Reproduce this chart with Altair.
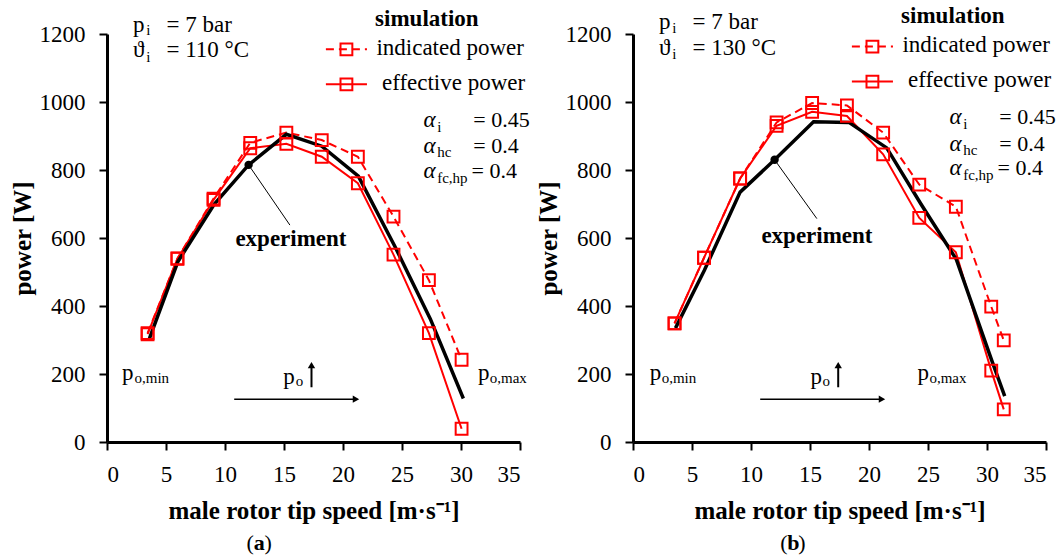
import altair as alt
import pandas as pd

# ---------------- data ----------------
# panel (a): p_i = 7 bar, theta_i = 110 C
speed_sim_a = [3.44, 5.97, 9.03, 12.14, 15.2, 18.2, 21.26, 24.28, 27.28, 30.05]
indicated_a = [320, 540, 716, 880, 910, 888, 839, 663, 476, 242]
effective_a = [317, 539, 712, 864, 877, 839, 761, 551, 320, 39]
speed_exp_a = [3.6, 6.0, 9.1, 12.0, 15.2, 18.2, 21.3, 24.4, 27.4, 30.2]
experiment_a = [305, 530, 700, 815, 905, 870, 782, 575, 362, 128]

# panel (b): p_i = 7 bar, theta_i = 130 C
speed_sim_b = [3.52, 6.02, 9.08, 12.17, 15.18, 18.13, 21.2, 24.26, 27.36, 30.36, 31.42]
indicated_b = [349, 542, 775, 940, 997, 990, 910, 757, 692, 398, 299]
effective_b = [349, 542, 775, 930, 971, 959, 846, 659, 558, 210, 96]
speed_exp_b = [3.6, 6.05, 9.08, 12.0, 15.3, 18.3, 21.5, 24.4, 27.4, 30.4, 31.5]
experiment_b = [335, 505, 735, 830, 942, 940, 865, 700, 537, 240, 135]

x_ticks = [0, 5, 10, 15, 20, 25, 30, 35]
y_ticks = [0, 200, 400, 600, 800, 1000, 1200]
x_title = "male rotor tip speed [m·s⁻¹]"
y_title = "power [W]"

RED = "#ff0000"
FONT = "Liberation Serif"
W, H = 413, 408


def annotations(temp, y_off, sub_rows):
    """Annotation tables (positions in data units) for one panel."""
    normal = [
        (2.21, 1206 + y_off, "p", 23),
        (3.32, 1196 + y_off, "i", 15),
        (5.04, 1206 + y_off, "= 7 bar", 23),
        (2.21, 1131 + y_off, "ϑ", 23),
        (3.32, 1118 + y_off, "i", 15),
        (5.04, 1131 + y_off, f"= {temp} °C", 23),
        (22.83, 1138 + y_off, "indicated power", 23),
        (23.3, 1035 + y_off, "effective power", 23),
        (31.04, 927 + y_off, "= 0.45", 22),
        (31.04, 849 + y_off, "= 0.4", 22),
        (30.9, 776 + y_off, "= 0.4", 22),
        (27.98, 913 + y_off, "i", 15),
        (27.98, 837 + y_off, "hc", 15),
        (27.98, 763 + y_off, "fc,hp", 15),
    ] + sub_rows
    bold = [
        (22.72, 1223 + y_off, "simulation", 23),
        (10.88, 577 + y_off, "experiment", 23),
    ]
    italic = [
        (26.82, 927 + y_off, "α", 23),
        (26.82, 849 + y_off, "α", 23),
        (26.82, 776 + y_off, "α", 23),
    ]
    cols = ["x", "y", "t", "fs"]
    return (pd.DataFrame(normal, columns=cols), pd.DataFrame(bold, columns=cols),
            pd.DataFrame(italic, columns=cols))


def panel(speed_sim, ind, eff, speed_exp, exp, temp, y_off, letter, cap_x,
          low_rows, arrow_x, exp_pt, lead_end):
    xs = alt.Scale(domain=[0, 35], nice=False)
    ys = alt.Scale(domain=[0, 1200], nice=False)
    xax = alt.Axis(values=x_ticks, title=x_title, grid=False)
    yax = alt.Axis(values=y_ticks, title=y_title, grid=False, format="d")

    def X(f):
        return alt.X(f, type="quantitative", scale=xs, axis=xax)

    def Y(f):
        return alt.Y(f, type="quantitative", scale=ys, axis=yax)

    sim = pd.DataFrame({"speed": speed_sim, "ind": ind, "eff": eff})
    expd = pd.DataFrame({"speed": speed_exp, "power": exp})

    ind_line = alt.Chart(sim).mark_line(color=RED, strokeWidth=2, strokeDash=[8, 5]).encode(
        x=X("speed"), y=Y("ind"))
    eff_line = alt.Chart(sim).mark_line(color=RED, strokeWidth=2).encode(
        x=X("speed"), y=Y("eff"))
    exp_line = alt.Chart(expd).mark_line(color="black", strokeWidth=3.5).encode(
        x=X("speed"), y=Y("power"))
    ind_pts = alt.Chart(sim).mark_point(shape="square", filled=False, color=RED, size=140,
                                        strokeWidth=2, opacity=1).encode(x=X("speed"), y=Y("ind"))
    eff_pts = alt.Chart(sim).mark_point(shape="square", filled=False, color=RED, size=140,
                                        strokeWidth=2, opacity=1).encode(x=X("speed"), y=Y("eff"))

    dot = alt.Chart(pd.DataFrame({"x": [exp_pt[0]], "y": [exp_pt[1]]})).mark_point(
        shape="circle", filled=True, color="black", size=70, opacity=1).encode(x=X("x"), y=Y("y"))

    # legend samples
    leg_solid = pd.DataFrame({"x": [18.55], "x2": [22.03], "y": [1052 + y_off]})
    leg_dash = pd.DataFrame({"x": [18.55], "x2": [22.03], "y": [1155 + y_off]})
    leg_sq = pd.DataFrame({"x": [20.29, 20.29], "y": [1155 + y_off, 1052 + y_off]})
    l1 = alt.Chart(leg_dash).mark_rule(color=RED, strokeWidth=2, strokeDash=[8, 5]).encode(
        x=X("x"), x2="x2", y=Y("y"))
    l2 = alt.Chart(leg_solid).mark_rule(color=RED, strokeWidth=2).encode(
        x=X("x"), x2="x2", y=Y("y"))
    l3 = alt.Chart(leg_sq).mark_point(shape="square", filled=False, color=RED, size=140,
                                      strokeWidth=2, opacity=1).encode(x=X("x"), y=Y("y"))

    # leader line + arrows
    segs = pd.DataFrame({
        "x": [exp_pt[0], 10.78, arrow_x],
        "x2": [lead_end[0], 21.1, arrow_x],
        "y": [exp_pt[1], 126, 161],
        "y2": [lead_end[1], 126, 226],
        "w": [1, 1.5, 2],
    })
    seg = alt.Chart(segs).mark_rule(color="black").encode(
        x=X("x"), x2="x2", y=Y("y"), y2="y2", strokeWidth=alt.StrokeWidth("w:Q", scale=None))
    heads = pd.DataFrame({"x": [21.1], "y": [126]})
    head_r = alt.Chart(heads).mark_point(shape="triangle-right", filled=True, color="black",
                                         size=55, opacity=1).encode(x=X("x"), y=Y("y"))
    heads_u = pd.DataFrame({"x": [arrow_x], "y": [226]})
    head_u = alt.Chart(heads_u).mark_point(shape="triangle-up", filled=True, color="black",
                                           size=55, opacity=1).encode(x=X("x"), y=Y("y"))

    normal, bold, italic = annotations(temp, y_off, low_rows)
    caption_n = pd.DataFrame({"x": [cap_x, cap_x + 1.52], "y": [-318, -318], "t": ["(", ")"], "fs": [22, 22]})
    caption_b = pd.DataFrame({"x": [cap_x + 0.6], "y": [-318], "t": [letter], "fs": [22]})
    normal = pd.concat([normal, caption_n], ignore_index=True)
    bold = pd.concat([bold, caption_b], ignore_index=True)

    def txt(df, **kw):
        return alt.Chart(df).mark_text(font=FONT, align="left", baseline="alphabetic",
                                       color="black", **kw).encode(
            x=X("x"), y=Y("y"), text="t:N", size=alt.Size("fs:Q", scale=None))

    t1 = txt(normal)
    t2 = txt(bold, fontWeight="bold")
    t3 = txt(italic, fontStyle="italic")

    return alt.layer(ind_line, eff_line, exp_line, ind_pts, eff_pts, dot,
                     l1, l2, l3, seg, head_r, head_u, t1, t2, t3).properties(width=W, height=H)


low_a = [
    (1.28, 182, "p", 23), (2.33, 175, "o,min", 15),
    (31.45, 182, "p", 23), (32.44, 175, "o,max", 15),
    (14.94, 171, "p", 23), (15.99, 164, "o", 15),
]
low_b = [
    (1.43, 182, "p", 23), (2.43, 175, "o,min", 15),
    (24.12, 182, "p", 23), (25.12, 175, "o,max", 15),
    (15.04, 172, "p", 23), (16.06, 165, "o", 15),
]

left = panel(speed_sim_a, indicated_a, effective_a, speed_exp_a, experiment_a, 110, 0, "a",
             11.83, low_a, 17.33, (12.0, 815), (15.5, 638))
right = panel(speed_sim_b, indicated_b, effective_b, speed_exp_b, experiment_b, 130, 8, "b",
              12.48, low_b, 17.39, (12.0, 830), (15.58, 657))

chart = alt.hconcat(left, right, spacing=113, bounds="flush").configure_view(
    stroke=None
).configure_axis(
    domainColor="black", domainWidth=3, tickColor="black", tickWidth=2, tickSize=8,
    labelFont=FONT, labelFontSize=23, labelColor="black",
    titleFont=FONT, titleFontSize=25, titleFontWeight="bold", titleColor="black",
    grid=False,
).configure_axisX(labelPadding=13, titlePadding=12).configure_axisY(
    labelPadding=14, titlePadding=4
).properties(padding={"left": 10, "top": 5, "right": 0, "bottom": 0})

chart.save("out.html", embed_options={"renderer": "svg", "actions": False})
